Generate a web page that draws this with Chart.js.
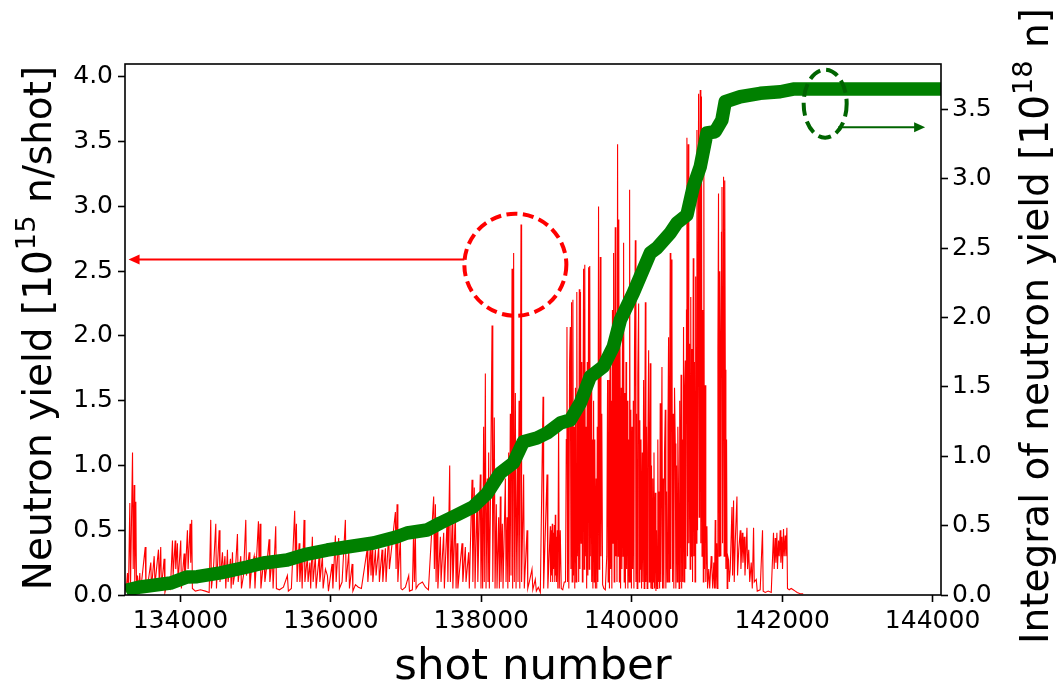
<!DOCTYPE html>
<html>
<head>
<meta charset="utf-8">
<script src="https://cdn.jsdelivr.net/npm/chart.js@4/dist/chart.umd.min.js"></script>
<style>
  html, body { margin: 0; padding: 0; background: #fff; }
  canvas { display: block; }
</style>
</head>
<body>
<canvas id="chartYield" width="1058" height="691"></canvas>
<script>
// neutron yield per shot [1e15 n/shot], as [shot, yield] pairs
const yieldEarly = [
  [133276,0.02],[133296,0.17],[133309,0.03],[133327,0.71],[133336,0.05],[133363,1.10],[133372,0.20],[133385,0.85],[133393,0.10],[133407,0.72],
  [133416,0.05],[133429,0.15],[133443,0.02],[133460,0.17],[133469,0.02],[133532,0.37],[133542,0.02],[133575,0.12],[133606,0.25],[133615,0.05],
  [133651,0.30],[133662,0.08],[133682,0.20],[133708,0.35],[133718,0.10],[133738,0.37],[133747,0.05],[133783,0.28],[133794,0.02],[133827,0.10],
  [133867,0.05],[133894,0.42],[133903,0.15],[133930,0.42],[133938,0.20],[133960,0.40],[133969,0.10],[134004,0.42],[134013,0.05],[134049,0.32],
  [134060,0.10],[134093,0.50],[134102,0.20],[134129,0.55],[134137,0.25],[134150,0.58],[134159,0.05],[134199,0.03],[134266,0.04],[134332,0.03],
  [134382,0.02],[134403,0.58],[134412,0.05],[134439,0.20],[134470,0.55],[134479,0.05],[134515,0.50],[134526,0.10],[134559,0.33],[134568,0.15],
  [134592,0.30],[134603,0.05],[134625,0.35],[134634,0.10],[134665,0.28],[134674,0.05],[134692,0.33],[134701,0.08],[134732,0.20],[134758,0.47],
  [134768,0.10],[134802,0.30],[134811,0.05],[134838,0.15],[134869,0.58],[134878,0.15],[134914,0.33],[134924,0.05],[134944,0.20],[134980,0.30],
  [134991,0.05],[135037,0.57],[135046,0.20],[135059,0.55],[135070,0.05],[135112,0.30],[135123,0.10],[135143,0.20],[135179,0.43],[135189,0.10],
  [135223,0.30],[135232,0.05],[135267,0.53],[135276,0.05],[135316,0.04],[135369,0.06],[135422,0.15],[135435,0.03],[135475,0.05],[135519,0.65],
  [135528,0.30],[135542,0.55],[135551,0.10],[135578,0.40],[135588,0.10],[135608,0.30],[135618,0.05],[135644,0.58],[135655,0.10],[135688,0.30],
  [135697,0.10],[135721,0.25],[135732,0.05],[135754,0.45],[135764,0.10],[135794,0.30],[135804,0.05],[135844,0.30],[135854,0.10],[135888,0.30],
  [135897,0.05],[135928,0.20],[135954,0.15],[135968,0.03]
];
const yieldMiddle = [
  [136016,0.24],[136027,0.05],[136060,0.46],[136070,0.10],[136104,0.44],[136114,0.05],[136149,0.10],[136193,0.58],[136203,0.10],[136238,0.33],
  [136247,0.05],[136283,0.24],[136293,0.03],[136327,0.08],[136366,0.06],[136406,0.05],[136482,0.35],[136492,0.10],[136525,0.37],[136534,0.15],
  [136548,0.40],[136558,0.10],[136592,0.35],[136601,0.15],[136636,0.37],[136645,0.10],[136681,0.35],[136691,0.10],[136725,0.36],[136734,0.10],
  [136769,0.48],[136778,0.20],[136858,0.64],[136867,0.20],[136880,0.70],[136891,0.10],[136924,0.44],[136933,0.05],[136951,0.04],[136991,0.06],
  [137035,0.15],[137045,0.03],[137084,0.04],[137101,0.53],[137110,0.10],[137124,0.45],[137133,0.05],[137164,0.08],[137217,0.10],[137257,0.06],
  [137297,0.04],[137367,0.76],[137376,0.20],[137390,0.70],[137399,0.10],[137412,0.60],[137423,0.05],[137456,0.45],[137465,0.10],[137500,0.48],
  [137509,0.05],[137545,0.58],[137556,0.10],[137580,1.00],[137589,0.10],[137612,0.55],[137622,0.05],[137655,0.64],[137665,0.05],[137678,0.40],
  [137689,0.05],[137744,0.40],[137755,0.10],[137788,0.37],[137797,0.10],[137832,0.33],[137841,0.05],[137877,0.89],[137888,0.10],[137907,0.83],
  [137917,0.05],[137943,0.76],[137954,0.10],[137987,0.93],[137996,0.05],[138007,0.70],[138018,0.05],[138031,1.30],[138040,0.10],[138054,1.71],
  [138063,0.05],[138080,0.90],[138089,0.10],[138098,1.10],[138107,0.05],[138120,0.60],[138143,2.08],[138153,0.10],[138173,1.37],[138183,0.05],
  [138200,0.70],[138209,0.05],[138231,0.60],[138240,0.05],[138253,0.76],[138262,0.10],[138280,0.55],[138289,0.05],[138320,0.90],[138329,0.10],
  [138342,0.60],[138353,0.05],[138364,1.10],[138373,0.10],[138386,1.40],[138395,0.15],[138409,2.52],[138417,0.05],[138430,2.64],[138439,0.10],
  [138453,1.56],[138462,0.05],[138479,1.00],[138488,0.10],[138502,1.50],[138512,0.05],[138528,2.86],[138536,0.10],[138563,0.93],[138572,0.05],
  [138608,0.50],[138618,0.05],[138638,0.10],[138674,0.20],[138685,0.04],[138718,0.12],[138732,0.03],[138758,0.06],[138785,0.02],[138821,1.53],
  [138829,0.05],[138874,0.93],[138885,0.05],[138918,0.53],[138922,0.10],[138927,0.50],[138932,0.15],[138944,0.55],[138949,0.10],[138954,0.48],
  [138960,0.20],[138971,0.54],[138977,0.10],[138984,0.62],[138990,0.15],[138994,0.45],[139000,0.10],[139011,0.50],[139018,0.05],[139028,1.35],
  [139037,0.05],[139050,0.50],[139063,0.05],[139083,0.04],[139103,0.10]
];
const yieldPeak = [
  [139120,0.10],[139130,1.20],[139139,2.07],[139147,0.10],[139156,1.40],[139164,0.05],[139174,1.80],[139183,2.07],[139192,0.20],[139200,2.26],
  [139208,0.10],[139218,2.28],[139226,0.15],[139235,1.30],[139243,0.05],[139252,1.60],[139260,0.10],[139270,2.34],[139278,0.30],[139287,1.50],
  [139295,0.10],[139303,2.36],[139311,0.20],[139319,2.34],[139327,0.40],[139336,1.80],[139344,0.10],[139352,1.40],[139360,2.52],[139368,0.20],
  [139376,2.55],[139384,0.30],[139393,1.30],[139401,0.05],[139409,1.80],[139417,0.15],[139427,2.53],[139435,0.20],[139442,2.54],[139450,0.30],
  [139460,1.60],[139468,0.10],[139476,1.20],[139484,0.05],[139493,1.50],[139501,0.10],[139509,1.20],[139517,0.05],[139527,0.90],[139535,0.05],
  [139542,1.30],[139550,0.10],[139559,3.00],[139567,0.20],[139575,1.30],[139582,2.61],[139591,0.30],[139602,1.40],[139613,0.08],[139629,0.05],
  [139649,0.04],[139668,0.30],[139679,1.66],[139687,0.10],[139696,1.66],[139704,0.05],[139712,1.90],[139720,0.20],[139728,1.50],[139736,0.05],
  [139744,2.20],[139752,0.40],[139759,2.64],[139767,0.10],[139775,1.70],[139781,2.84],[139789,0.30],[139797,2.10],[139804,0.10],[139812,3.48],
  [139820,0.30],[139828,2.90],[139836,0.10],[139844,1.94],[139852,0.05],[139861,1.60],[139869,0.20],[139877,2.00],[139885,0.30],[139892,2.72],
  [139900,0.10],[139908,1.56],[139916,0.05],[139924,1.80],[139932,0.20],[139941,1.50],[139949,0.05],[139957,1.20],[139965,0.10],[139972,3.13],
  [139980,0.10],[139988,1.43],[139996,0.05],[140004,1.30],[140012,0.20],[140021,1.50],[140029,0.05],[140037,1.90],[140048,2.74],[140056,0.10],
  [140064,1.40],[140072,0.05],[140081,1.70],[140092,2.25],[140100,0.10],[140108,1.35],[140115,0.20],[140123,1.20],[140131,0.05],[140141,1.10],
  [140149,0.10],[140158,1.66],[140166,0.05],[140174,1.20],[140181,2.26],[140189,0.10],[140197,1.30],[140205,0.05],[140214,1.10],[140225,1.89],
  [140233,0.10],[140241,1.20],[140247,1.79],[140255,0.05],[140263,1.00],[140271,0.05],[140280,0.90],[140288,0.10],[140296,1.10],[140304,0.05],
  [140314,0.79],[140322,0.03],[140330,0.50],[140338,0.05],[140347,1.20],[140355,0.10],[140363,0.80],[140371,0.05],[140379,1.48],[140387,0.10],
  [140402,1.76],[140410,0.05],[140419,0.90],[140427,0.05],[140436,1.10],[140446,1.43],[140454,0.05],[140463,0.80],[140472,0.10],[140482,1.30],
  [140490,1.99],[140498,0.10],[140505,1.50],[140512,2.64],[140520,0.20],[140528,2.59],[140535,2.15],[140543,0.10],[140552,1.40],[140560,0.05],
  [140569,1.60],[140579,1.17],[140587,0.05],[140596,1.00],[140605,0.10],[140613,1.30],[140622,0.81],[140630,0.05],[140638,1.50],[140646,0.10],
  [140656,1.70],[140664,0.05],[140672,1.20],[140680,0.10],[140689,2.07],[140697,0.10],[140705,1.60],[140712,1.81],[140720,0.20],[140728,2.20],
  [140734,3.53],[140742,0.30],[140751,3.48],[140759,0.40],[140769,1.94],[140777,0.20],[140785,2.30],[140793,0.30],[140801,1.90],[140809,0.10],
  [140818,2.60],[140826,0.30],[140834,1.80],[140842,0.10],[140850,2.46],[140858,0.40],[140867,3.59],[140875,0.50],[140889,3.87],[140897,0.60],
  [140903,2.80],[140911,3.90],[140919,0.40],[140927,3.85],[140935,0.30],[140944,2.20],[140952,0.10],[140959,3.28],[140967,0.20],[140977,1.62],
  [140985,0.10],[141000,0.53],[141008,0.05],[141024,0.20],[141037,0.05],[141057,0.30],[141067,0.19],[141077,0.05],[141091,0.25],[141101,0.05],
  [141110,0.58],[141118,0.05],[141130,0.40],[141138,0.05],[141146,1.90],[141154,3.10],[141162,0.30],[141170,2.50],[141177,1.94],[141185,0.30],
  [141193,2.80],[141200,3.15],[141208,0.40],[141221,3.23],[141229,0.30],[141237,3.20],[141244,1.74],[141252,0.20],[141261,1.20],[141269,0.05]
];
const yieldTail = [
  [141277,0.30],[141288,0.27],[141297,0.10],[141310,0.20],[141333,0.68],[141341,0.15],[141354,0.73],[141363,0.10],[141376,0.40],[141399,0.76],
  [141407,0.15],[141423,0.35],[141443,0.50],[141452,0.20],[141470,0.48],[141479,0.25],[141496,0.45],[141506,0.15],[141532,0.52],[141540,0.20],
  [141556,0.35],[141569,0.10],[141589,0.25],[141603,0.05],[141620,0.52],[141629,0.10],[141656,0.12],[141669,0.03],[141708,0.04],[141739,0.50],
  [141748,0.03],[141775,0.02],[141815,0.03],[141855,0.02],[141885,0.48],[141894,0.20],[141908,0.44],[141917,0.25],[141930,0.48],[141938,0.20],
  [141952,0.42],[141961,0.30],[141974,0.50],[141983,0.25],[141997,0.45],[142005,0.20],[142018,0.51],[142027,0.30],[142041,0.46],[142050,0.30],
  [142063,0.52],[142071,0.05],[142094,0.04],[142120,0.05],[142147,0.04],[142174,0.03],[142200,0.02],[142240,0.01],[142280,0.01]
];

// running integral of the yield [1e18 n]
const integralShots = [
  133270, 133292, 133469, 133868, 134090, 134222, 134532, 134887, 135103, 135418,
  135684, 135950, 136300, 136566, 136880, 137013, 137279, 137456, 137628, 137894,
  138076, 138252, 138425, 138558, 138740, 138874, 139050, 139183, 139316, 139449,
  139622, 139755, 139848, 140020, 140246, 140335, 140512, 140601, 140734, 140818,
  140911, 141000, 141109, 141199, 141243, 141442, 141708, 141974, 142147, 144113
];
const integralValues = [
  0.03, 0.036, 0.058, 0.086, 0.13, 0.132, 0.159, 0.202, 0.231, 0.252,
  0.295, 0.324, 0.353, 0.375, 0.42, 0.447, 0.468, 0.519, 0.564, 0.636,
  0.73, 0.879, 0.951, 1.104, 1.131, 1.167, 1.239, 1.261, 1.383, 1.573,
  1.645, 1.789, 1.98, 2.176, 2.464, 2.50, 2.608, 2.68, 2.738, 2.94,
  3.086, 3.329, 3.338, 3.422, 3.554, 3.59, 3.615, 3.626, 3.645, 3.645
];

const shotTicks = [134000, 136000, 138000, 140000, 142000, 144000];
const yieldTicks = [0, 0.5, 1, 1.5, 2, 2.5, 3, 3.5, 4];
const integralTicks = [0, 0.5, 1, 1.5, 2, 2.5, 3, 3.5];

const xTitle = [['shot number', false]];
const leftTitle = [['Neutron yield [10', false], ['15', true], [' n/shot]', false]];
const rightTitle = [['Integral of neutron yield [10', false], ['18', true], [' n]', false]];

const FONT = '"DejaVu Sans", sans-serif';
Chart.defaults.font.family = FONT;
Chart.defaults.color = '#000';

const toPoints = rows => rows.map(([x, y]) => ({ x, y }));
const yieldSeries = toPoints([...yieldEarly, ...yieldMiddle, ...yieldPeak, ...yieldTail]);
const integralSeries = integralShots.map((x, i) => ({ x, y: integralValues[i] }));

const fixedTicks = values => scale => { scale.ticks = values.map(value => ({ value })); };

const axisGrid = { drawOnChartArea: false, drawTicks: true, tickLength: 7, tickWidth: 1.6, tickColor: '#000' };
const tickFont = { family: FONT, size: 25 };

// rich text (with superscripts) centred on the current origin
function drawRich(ctx, parts, size) {
  const runs = parts.map(([text, sup]) => {
    const fs = sup ? size * 0.7 : size;
    ctx.font = `${fs}px ${FONT}`;
    return { text, sup, fs, w: ctx.measureText(text).width };
  });
  let x = -runs.reduce((s, r) => s + r.w, 0) / 2;
  for (const r of runs) {
    ctx.font = `${r.fs}px ${FONT}`;
    ctx.fillText(r.text, x, r.sup ? -size * 0.42 : 0);
    x += r.w;
  }
}

function arrow(ctx, x0, y0, x1, y1, color) {
  const dir = Math.sign(x1 - x0);
  ctx.strokeStyle = color;
  ctx.fillStyle = color;
  ctx.lineWidth = 2;
  ctx.setLineDash([]);
  ctx.beginPath();
  ctx.moveTo(x0, y0);
  ctx.lineTo(x1 - dir * 8, y1);
  ctx.stroke();
  ctx.beginPath();
  ctx.moveTo(x1, y1);
  ctx.lineTo(x1 - dir * 11, y1 - 5);
  ctx.lineTo(x1 - dir * 11, y1 + 5);
  ctx.closePath();
  ctx.fill();
}

const decorations = {
  id: 'decorations',
  afterDraw(chart) {
    const { ctx, chartArea: a, scales: { x, y, y2 } } = chart;
    ctx.save();

    // red ring around the highest early shots, arrow towards the left axis
    const rx = x.getPixelForValue(138453), ry = y.getPixelForValue(2.55), rr = 51;
    ctx.strokeStyle = '#ff0000';
    ctx.lineWidth = 4;
    ctx.setLineDash([11, 5.5]);
    ctx.beginPath();
    ctx.arc(rx, ry, rr, 0, Math.PI * 2);
    ctx.stroke();
    const ay = y.getPixelForValue(2.59);
    arrow(ctx, rx - rr, ay, x.getPixelForValue(133310), ay, '#ff0000');

    // green ellipse on the plateau, arrow towards the right axis
    const ex = x.getPixelForValue(142572), ey = y2.getPixelForValue(3.54);
    ctx.strokeStyle = '#006400';
    ctx.lineWidth = 4;
    ctx.setLineDash([13, 6]);
    ctx.beginPath();
    ctx.ellipse(ex, ey, 21.5, 34, 0, 0, Math.PI * 2);
    ctx.stroke();
    const gy = y2.getPixelForValue(3.37);
    arrow(ctx, x.getPixelForValue(142745), gy, x.getPixelForValue(143901), gy, '#006400');

    // frame
    ctx.setLineDash([]);
    ctx.strokeStyle = '#000';
    ctx.lineWidth = 1.6;
    ctx.strokeRect(a.left, a.top, a.right - a.left, a.bottom - a.top);

    // axis titles
    ctx.fillStyle = '#000';
    ctx.textBaseline = 'alphabetic';
    ctx.textAlign = 'left';
    ctx.save();
    ctx.translate((a.left + a.right) / 2, 679);
    drawRich(ctx, xTitle, 43.5);
    ctx.restore();

    ctx.save();
    ctx.translate(51, 328);
    ctx.rotate(-Math.PI / 2);
    drawRich(ctx, leftTitle, 39);
    ctx.restore();

    ctx.save();
    ctx.translate(1048, 326);
    ctx.rotate(-Math.PI / 2);
    drawRich(ctx, rightTitle, 39);
    ctx.restore();

    ctx.restore();
  }
};

new Chart(document.getElementById('chartYield').getContext('2d'), {
  type: 'line',
  data: {
    datasets: [
      {
        label: 'Integral of neutron yield',
        data: integralSeries,
        yAxisID: 'y2',
        borderColor: '#008000',
        borderWidth: 13.5,
        borderJoinStyle: 'round',
        pointRadius: 0,
        tension: 0,
        clip: 0,
        order: 0
      },
      {
        label: 'Neutron yield',
        data: yieldSeries,
        yAxisID: 'y',
        borderColor: '#ff0000',
        borderWidth: 1.1,
        pointRadius: 0,
        tension: 0,
        order: 1
      }
    ]
  },
  options: {
    responsive: false,
    animation: false,
    events: [],
    layout: { padding: { top: 64, left: 0, right: 0, bottom: 0 } },
    plugins: { legend: { display: false }, tooltip: { enabled: false } },
    scales: {
      x: {
        type: 'linear',
        min: 133263,
        max: 144112,
        afterBuildTicks: fixedTicks(shotTicks),
        afterFit: s => { s.height = 96; },
        border: { display: false },
        grid: axisGrid,
        ticks: { font: tickFont, padding: 4, maxRotation: 0, autoSkip: false, callback: v => String(v) }
      },
      y: {
        position: 'left',
        min: 0,
        max: 4.1,
        afterBuildTicks: fixedTicks(yieldTicks),
        afterFit: s => { s.width = 125; },
        border: { display: false },
        grid: axisGrid,
        ticks: { font: tickFont, padding: 5, callback: v => v.toFixed(1) }
      },
      y2: {
        position: 'right',
        min: 0,
        max: 3.826,
        afterBuildTicks: fixedTicks(integralTicks),
        afterFit: s => { s.width = 117; },
        border: { display: false },
        grid: axisGrid,
        ticks: { font: tickFont, padding: 4, callback: v => v.toFixed(1) }
      }
    }
  },
  plugins: [decorations]
});
</script>
</body>
</html>
